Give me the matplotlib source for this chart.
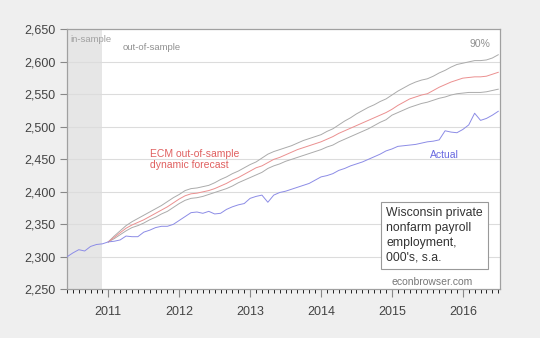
"""Wisconsin private nonfarm payroll employment, ECM out-of-sample forecast."""
import numpy as np
import matplotlib.pyplot as plt

plt.rcParams['font.family'] = ['Liberation Sans', 'DejaVu Sans']

# monthly, 2010m6 .. 2016m7
start_year, start_month = 2010, 6
actual = [2300, 2306, 2311, 2309, 2316, 2319, 2320, 2323, 2324, 2326,
          2332, 2331, 2331, 2338, 2341, 2345, 2347, 2347, 2350, 2356,
          2362, 2368, 2369, 2367, 2370, 2366, 2367, 2373, 2377, 2380,
          2382, 2390, 2393, 2395, 2384, 2395, 2399, 2401, 2404, 2407,
          2410, 2413, 2418, 2423, 2425, 2428, 2433, 2436, 2440, 2443,
          2446, 2450, 2454, 2458, 2463, 2466, 2470, 2471, 2472, 2473,
          2475, 2477, 2478, 2480, 2494, 2492, 2491, 2496, 2503, 2521,
          2510, 2513, 2518, 2524]

# forecast, 2011m1 .. 2016m7
fc_start = 7
forecast = [2323, 2330, 2337, 2344, 2349, 2353, 2357, 2362, 2367, 2372,
            2377, 2383, 2389, 2394, 2397, 2398, 2400, 2402, 2405, 2409,
            2413, 2418, 2422, 2427, 2432, 2437, 2440, 2445, 2450, 2453,
            2457, 2461, 2465, 2468, 2471, 2474, 2477, 2481, 2485, 2490,
            2494, 2498, 2502, 2506, 2510, 2514, 2518, 2522, 2527, 2533,
            2538, 2543, 2546, 2549, 2551, 2556, 2561, 2565, 2569, 2572,
            2575, 2576, 2577, 2577, 2578, 2581, 2584]
upper = [2323, 2332, 2340, 2348, 2354, 2359, 2364, 2369, 2374, 2379,
         2385, 2391, 2396, 2402, 2405, 2406, 2408, 2410, 2414, 2419,
         2423, 2428, 2432, 2437, 2442, 2446, 2452, 2458, 2462, 2465,
         2468, 2471, 2475, 2479, 2482, 2485, 2488, 2493, 2497, 2503,
         2509, 2514, 2520, 2525, 2530, 2534, 2539, 2543, 2549, 2555,
         2560, 2565, 2569, 2572, 2574, 2578, 2583, 2587, 2592, 2596,
         2598, 2600, 2602, 2602, 2603, 2606, 2611]
lower = [2323, 2328, 2334, 2340, 2345, 2348, 2352, 2357, 2361, 2366,
         2370, 2376, 2382, 2387, 2390, 2391, 2393, 2396, 2399, 2402,
         2405, 2409, 2414, 2418, 2422, 2426, 2430, 2436, 2440, 2443,
         2447, 2450, 2453, 2456, 2459, 2462, 2465, 2469, 2472, 2477,
         2481, 2485, 2489, 2493, 2497, 2502, 2507, 2511, 2518, 2522,
         2526, 2530, 2533, 2536, 2538, 2541, 2544, 2546, 2549, 2551,
         2552, 2553, 2553, 2553, 2554, 2556, 2558]

years = [2011, 2012, 2013, 2014, 2015, 2016]
yticks = [2250, 2300, 2350, 2400, 2450, 2500, 2550, 2600, 2650]
in_sample_end = 6  # 2010m12

m_act = np.arange(len(actual))
m_fc = np.arange(fc_start, fc_start + len(forecast))

fig = plt.figure(figsize=(5.4, 3.38), dpi=100, facecolor='#efefef')
ax = fig.add_axes([0.124, 0.144, 0.802, 0.769])
ax.set_facecolor('white')

ax.axvspan(0, in_sample_end, color='#e6e6e6', lw=0, zorder=0)
for v in yticks[1:-1]:
    ax.axhline(v, color='#dcdcdc', lw=0.8, zorder=1)

ax.plot(m_fc, upper, color='#ababab', lw=0.7, zorder=3)
ax.plot(m_fc, lower, color='#ababab', lw=0.7, zorder=3)
ax.plot(m_fc, forecast, color='#eb9090', lw=0.7, zorder=3)
ax.plot(m_act, actual, color='#8c8ce6', lw=0.7, zorder=4)

ax.set_xlim(0, 73.3)
ax.set_ylim(2250, 2650)
ax.set_yticks(yticks)
ax.set_yticklabels([f'{v:,}' for v in yticks])
jan = [(y - start_year) * 12 + 1 - start_month for y in years]
ax.set_xticks(jan)
ax.set_xticklabels([str(y) for y in years])
ax.set_xticks(np.arange(0, 74), minor=True)
ax.tick_params(axis='both', colors='#888888', labelcolor='#444444', labelsize=9)
ax.tick_params(axis='x', which='major', length=6, width=0.8, pad=6)
ax.tick_params(axis='x', which='minor', length=3, width=0.6)
ax.tick_params(axis='y', length=5, width=0.8, pad=3)
for s in ax.spines.values():
    s.set_color('#a0a0a0')
    s.set_linewidth(0.9)

ax.text(0.5, 2634, 'in-sample', color='#a0a0a0', fontsize=6.8, va='center')
ax.text(9.4, 2622, 'out-of-sample', color='#909090', fontsize=6.8, va='center')
ax.text(68.2, 2628, '90%', color='#909090', fontsize=7.5, va='center')
ax.text(14, 2450, 'ECM out-of-sample\ndynamic forecast', color='#e06060',
        fontsize=7.5, va='center', linespacing=1.15)
ax.text(61.5, 2457, 'Actual', color='#6868e0', fontsize=7.5, va='center')
ax.text(54.0, 2376, "Wisconsin private\nnonfarm payroll\nemployment,\n000's, s.a.",
        color='#333333', fontsize=8.8, va='top', linespacing=1.3,
        bbox=dict(boxstyle='square,pad=0.45', fc='white', ec='#999999', lw=0.8))
ax.text(61.8, 2261, 'econbrowser.com', color='#777777', fontsize=7.5,
        ha='center', va='center')

plt.savefig('out.png', dpi=100, facecolor=fig.get_facecolor())
